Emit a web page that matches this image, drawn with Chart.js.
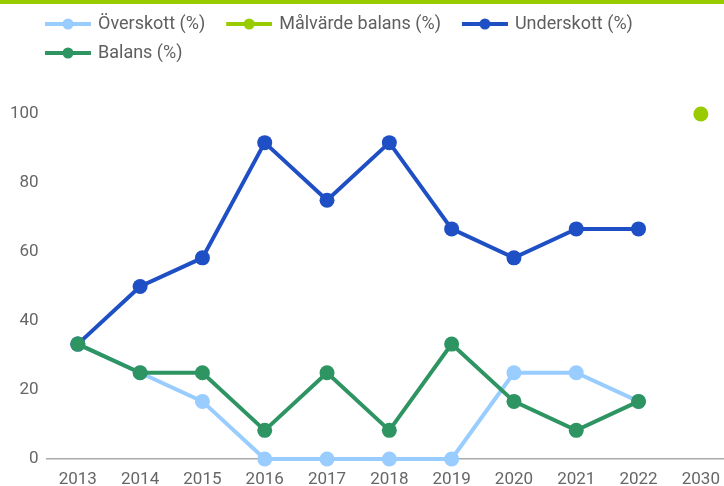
<!DOCTYPE html>
<html>
<head>
<meta charset="utf-8">
<script src="https://cdn.jsdelivr.net/npm/chart.js@4/dist/chart.umd.min.js"></script>
<style>
  html, body { margin: 0; padding: 0; background: #fff; overflow: hidden; }
  .frame { border-top: 4px solid #99cc00; width: 740px; height: 482px; }
  .frame canvas { display: block; }
</style>
</head>
<body>
<div class="frame"><canvas id="chart" width="740" height="482"></canvas></div>
<script>
// ── DATA ──
const years = ['2013', '2014', '2015', '2016', '2017', '2018', '2019', '2020', '2021', '2022', '2030'];
const overskott = [33.3, 25, 16.7, 0, 0, 0, 0, 25, 25, 16.7, null];
const malvarde = [null, null, null, null, null, null, null, null, null, null, 100];
const underskott = [33.3, 50, 58.3, 91.7, 75, 91.7, 66.7, 58.3, 66.7, 66.7, null];
const balans = [33.3, 25, 25, 8.3, 25, 8.3, 33.3, 16.7, 8.3, 16.7, null];

const COLORS = {
    over: '#99ccff',
    goal: '#99cc00',
    under: '#1f4fc4',
    bal: '#2e9462'
};

// legend marker: short line with a dot, transparent margin on the left
function legendMarker(color) {
    const c = document.createElement('canvas');
    c.width = 58; c.height = 16;
    const g = c.getContext('2d');
    g.strokeStyle = color;
    g.lineWidth = 4;
    g.beginPath(); g.moveTo(12, 8); g.lineTo(58, 8); g.stroke();
    g.fillStyle = color;
    g.beginPath(); g.arc(35, 8, 5.5, 0, Math.PI * 2); g.fill();
    return c;
}

function series(label, data, color, order) {
    return {
        label, data, order,
        borderColor: color,
        backgroundColor: color,
        borderWidth: 4,
        pointRadius: 7.5,
        pointHoverRadius: 8,
        pointBorderWidth: 0,
        pointBackgroundColor: color,
        tension: 0,
        clip: false,
        marker: legendMarker(color)
    };
}

// legend tweaks: space below it, nudged right of the y axis
const legendTweak = {
    id: 'legendTweak',
    beforeInit(chart) {
        const fit = chart.legend.fit;
        chart.legend.fit = function () {
            fit.call(this);
            this.height += 42;
        };
    },
    afterLayout(chart) {
        chart.legend.left += 22;
        chart.legend.right += 22;
    }
};

new Chart(document.getElementById('chart'), {
    type: 'line',
    data: {
        labels: years,
        datasets: [
            series('Överskott (%)', overskott, COLORS.over, 3),
            series('Målvärde balans (%)', malvarde, COLORS.goal, 2),
            series('Underskott (%)', underskott, COLORS.under, 1),
            series('Balans (%)', balans, COLORS.bal, 0)
        ]
    },
    options: {
        responsive: false,
        animation: false,
        layout: { padding: { left: 2, right: 7, top: 0, bottom: 0 } },
        plugins: {
            legend: {
                position: 'top',
                align: 'start',
                labels: {
                    usePointStyle: true,
                    pointStyleWidth: 54,
                    padding: 11,
                    color: '#5f5f5f',
                    font: { family: 'Roboto', size: 18 },
                    generateLabels(chart) {
                        return chart.data.datasets.map((ds, i) => ({
                            text: ds.label,
                            fillStyle: ds.borderColor,
                            strokeStyle: ds.borderColor,
                            pointStyle: ds.marker,
                            lineWidth: 0,
                            hidden: !chart.isDatasetVisible(i),
                            datasetIndex: i,
                            fontColor: '#5f5f5f'
                        }));
                    }
                }
            },
            tooltip: { enabled: true }
        },
        scales: {
            x: {
                offset: true,
                grid: { display: false, drawTicks: false },
                border: { display: true, color: '#aaa', width: 1.5 },
                ticks: { color: '#666', padding: 11, font: { family: 'Roboto', size: 17 } },
                afterFit(scale) { scale.height = 27; }
            },
            y: {
                min: 0,
                max: 100,
                grid: { display: false, drawTicks: false },
                border: { display: false },
                ticks: { stepSize: 20, color: '#666', padding: 8, font: { family: 'Roboto', size: 17 } }
            }
        }
    },
    plugins: [legendTweak]
});
</script>
</body>
</html>
